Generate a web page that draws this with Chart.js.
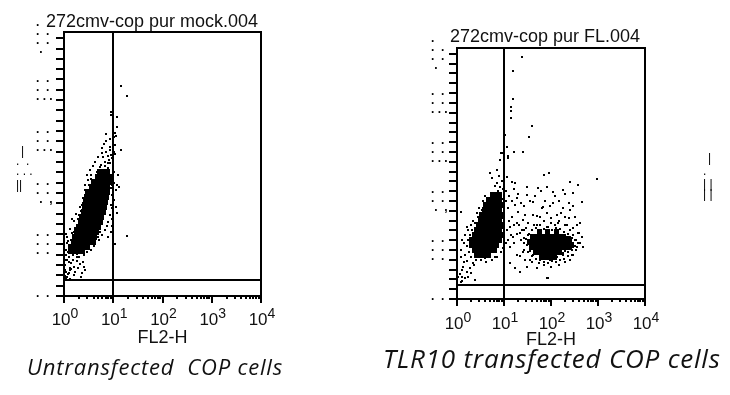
<!DOCTYPE html>
<html>
<head>
<meta charset="utf-8">
<script src="https://cdn.jsdelivr.net/npm/chart.js@4.4.1/dist/chart.umd.min.js"></script>
<style>
  html, body { margin: 0; padding: 0; background: #fff; }
  body { width: 730px; height: 395px; position: relative; overflow: hidden;
         font-family: 'Liberation Sans', Arial, sans-serif; }
  .panel { position: absolute; top: 0; height: 395px; }
  #leftBox  { left: 0;     width: 300px; }
  #rightBox { left: 390px; width: 340px; }
  .title { position: absolute; font-size: 18px; line-height: 18px; color: #111; white-space: pre; }
  .caption { position: absolute; font-family: 'Open Sans', Lato, sans-serif; font-style: italic;
             color: #111; white-space: pre; line-height: 1; }
</style>
</head>
<body>
<div class="panel" id="leftBox"><canvas id="cLeft"></canvas></div>
<div class="panel" id="rightBox"><canvas id="cRight"></canvas></div>

<div class="title" style="left:46px; top:12px;">272cmv-cop pur mock.004</div>
<div class="title" style="left:450px; top:27px;">272cmv-cop pur FL.004</div>
<div class="caption" style="left:27px; top:355px; font-size:22px; letter-spacing:0.8px;">Untransfected  COP cells</div>
<div class="caption" style="left:383px; top:345px; font-size:26px; letter-spacing:0.8px;">TLR10 transfected COP cells</div>

<script>
/* ---- axes (FL2-H log, SSC-H linear 0..1023) ---- */
const xDecades = [1, 10, 100, 1000, 10000];
const xExponents = ['0', '1', '2', '3', '4'];
const yMajorTicks = [0, 200, 400, 600, 800, 1000];
const yMinorStep = 40;
const xAxisTitle = 'FL2-H';

/* gate positions */
const leftGate = { x: 10, y: 62 };
const rightGate = { x: 10, y: 57 };

/* ---- mock (untransfected) : dense core ---- */
const mockCore = [
  [5.18,481],[6.25,481],[7.55,481],
  [4.71,462],[5.69,462],[6.87,462],[8.3,462],
  [3.9,442],[4.71,442],[5.69,442],[6.87,442],[8.3,442],
  [3.55,423],[4.29,423],[5.18,423],[6.25,423],[7.55,423],
  [2.95,404],[3.55,404],[4.29,404],[5.18,404],[6.25,404],[7.55,404],
  [2.81,384],[3.39,384],[4.09,384],[4.94,384],[5.96,384],[7.2,384],
  [2.68,365],[3.24,365],[3.9,365],[4.71,365],[5.69,365],[6.87,365],
  [2.56,345],[3.09,345],[3.72,345],[4.5,345],[5.43,345],[6.55,345],
  [2.44,326],[2.95,326],[3.55,326],[4.29,326],[5.18,326],[6.25,326],
  [2.22,307],[2.68,307],[3.24,307],[3.9,307],[4.71,307],[5.69,307],
  [2.12,287],[2.56,287],[3.09,287],[3.72,287],[4.5,287],[5.43,287],
  [1.93,268],[2.33,268],[2.81,268],[3.39,268],[4.09,268],[4.94,268],
  [1.76,248],[2.12,248],[2.56,248],[3.09,248],[3.72,248],[4.5,248],
  [1.6,229],[1.93,229],[2.33,229],[2.81,229],[3.39,229],[4.09,229],
  [1.53,210],[1.84,210],[2.22,210],[2.68,210],[3.24,210],[3.9,210],
  [1.39,190],[1.68,190],[2.02,190],[2.44,190],[2.95,190],
  [1.33,175],[1.6,175],[1.93,175],[2.33,175]
];
/* mock : single events */
const mockSparse = [
  [14.6,815],[19.3,776],[9.1,714],[9.1,702],[12.1,695],[12.1,656],[7.2,629],[11.0,632],
  [11.5,621],[8.7,609],[10.5,617],[5.96,574],[8.7,566],[14.6,566],[7.9,543],[9.5,535],
  [11.0,551],[8.7,578],[12.1,431],[13.2,423],[11.5,411],[10.5,372],[11.5,345],[12.1,322],
  [19.3,233],[1.46,299],[1.15,229],[1.27,190],[1.1,159],[1.15,140],[1.39,128],[1.6,113],
  [2.02,151],[2.56,159],[2.22,74],[1.27,89],[1.15,74],[1.46,62],[1.05,101],[1.1,93],
  [1.21,85],[1.05,78],[1.33,101],[1.1,70],[5.69,508],[6.87,520],[7.9,497],[6.25,489],
  [8.7,516],[4.94,489],[7.2,481],[8.3,528],[2.02,314],[2.33,353],[2.68,411],[3.09,450],
  [3.55,470],[1.84,275],[1.6,248],[1.39,217],[1.27,198],[1.68,178],[1.84,163],[2.95,171],
  [3.55,178],[4.09,194],[5.18,217],[5.96,237],[6.87,256],[7.9,287],[8.7,314],[9.1,353],
  [9.5,392],[9.5,431],[9.1,458],[4.29,450],[3.9,427],[5.43,466],[1.15,205],[1.33,182],
  [1.21,170],[1.46,186],[1.05,120],[1.27,150],[1.5,140],[1.8,135],[2.1,125],[2.4,130],
  [1.9,150],[1.3,110],[1.7,95],[2.6,112],[1.12,240],[1.35,260],[1.6,290],[1.75,320],
  [2.1,345],[2.4,380],[2.65,432],[3.0,470],[3.3,490],[3.8,505],[4.2,520],[5.0,540],
  [6.0,555],[7.2,560],[6.5,590],[10.3,480],[10.2,440],[12.7,470],[9.8,500],[11.0,202],
  [9.3,300],[9.6,270],[8.8,250],[8.0,230],[7.5,270],[9.4,340],[9.7,380],[9.0,420],
  [8.5,440],[10.0,470],[6.0,280],[5.5,250],[4.8,230],[4.2,210],[3.4,200],[3.0,190],
  [2.6,180],[2.2,170],[1.8,150],[1.5,160],[1.25,130],[1.4,105],[1.9,110],[2.3,90],
  [1.6,80],[1.3,65],[2.7,100],[1.05,140],[1.08,180],[1.2,215],[1.45,245],[1.7,265],
  [1.95,300],[2.2,330],[2.45,360],[2.75,395],[3.2,430],[3.6,455],[4.6,480],[5.3,500],
  [6.7,505],[7.7,515],[9.2,545],[10.5,560],[6.3,540],[7.0,600],[10.8,585]
];

/* ---- TLR10 transfected : dense cores ---- */
const tlrCore = [
  [5.56,424],[6.76,424],[8.22,424],
  [4.57,404],[5.56,404],[6.76,404],[8.22,404],
  [4.14,384],[5.04,384],[6.13,384],[7.45,384],[9.07,384],
  [3.76,363],[4.57,363],[5.56,363],[6.76,363],[8.22,363],
  [3.4,343],[4.14,343],[5.04,343],[6.13,343],[7.45,343],[9.07,343],
  [3.09,322],[3.76,322],[4.57,322],[5.56,322],[6.76,322],[8.22,322],
  [2.8,302],[3.4,302],[4.14,302],[5.04,302],[6.13,302],[7.45,302],[9.07,302],
  [2.54,282],[3.09,282],[3.76,282],[4.57,282],[5.56,282],[6.76,282],[8.22,282],
  [2.3,261],[2.8,261],[3.4,261],[4.14,261],[5.04,261],[6.13,261],[7.45,261],[9.07,261],
  [2.08,241],[2.54,241],[3.09,241],[3.76,241],[4.57,241],[5.56,241],[6.76,241],[8.22,241],
  [2.08,220],[2.54,220],[3.09,220],[3.76,220],[4.57,220],[5.56,220],[6.76,220],
  [2.3,200],[2.8,200],[3.4,200],[4.14,200],[5.04,200],[6.13,200],
  [2.54,180],[3.09,180],[3.76,180],[4.57,180],
  [58.2,273],[86.2,273],[128,273],
  [40,253],[47.9,253],[58.2,253],[70.8,253],[86.2,253],[105,253],[128,253],[155,253],[189,253],
  [35.7,233],[43.4,233],[52.8,233],[64.2,233],[78.1,233],[95,233],[116,233],[141,233],[171,233],[208,233],[253,233],
  [230,243],[279,222],
  [39.4,212],[47.9,212],[58.2,212],[70.8,212],[86.2,212],[105,212],[128,212],[155,212],[189,212],[230,212],
  [47.9,192],[58.2,192],[70.8,192],[86.2,192],[105,192],[128,192],[155,192],
  [64.2,171],[78.1,171],[95,171],[116,171]
];
const tlrSparse = [
  [24.1,987],[15.5,930],[15.5,816],[14.1,783],[14.1,767],[14.1,739],[39.4,706],[34,661],
  [10.5,669],[11.6,620],[8.6,596],[12.2,583],[16.3,600],[25.3,600],[9.52,596],[12.2,575],
  [8.22,567],[7.1,526],[5.04,514],[11.6,498],[14.8,477],[17.1,473],[30.8,457],[70.8,506],
  [90.6,514],[253,477],[375,465],[950,490],[52.8,453],[82.4,457],[110,437],[180,445],
  [293,432],[456,396],[30.8,424],[18.9,412],[23,392],[41.3,396],[67.4,375],[110,392],
  [180,371],[253,363],[323,335],[413,310],[456,253],[479,212],[357,212],[375,269],
  [1.22,355],[1.63,294],[1.28,241],[1.22,200],[1.34,131],[1.89,126],[2.19,147],[3.09,188],
  [3.94,167],[5.04,180],[7.1,171],[1.63,155],[1.48,180],[1.28,90],[1.48,86],[1.71,90],
  [2.42,78],[1.22,69],[1.3,75],[13.4,147],[17.1,126],[21.9,110],[30.8,131],[50.3,126],
  [82.4,86],[35.7,159],[18.9,180],[25.3,192],[13.4,212],[12.2,241],[15.5,253],[21.9,269],
  [13.4,294],[18.9,310],[25.3,322],[14.8,335],[19.8,355],[27.9,343],[12.2,371],[17.1,384],
  [41.3,343],[58.2,335],[82.4,351],[134,343],[198,335],[32.4,310],[50.3,302],[82.4,294],
  [141,310],[219,302],[293,290],[323,241],[279,200],[180,188],[134,171],[95,159],
  [64.2,167],[41.3,180],[35.7,212],[52.8,228],[5.56,494],[7.1,473],[8.22,457],[5.84,432],
  [4.57,412],[3.94,392],[3.4,363],[2.8,335],[2.42,310],[2.08,282],[1.89,261],[1.71,241],
  [1.89,212],[2.19,200],[86.2,86],[11.0,230],[11.6,280],[12.8,320],[14.0,260],[16.0,300],
  [16.5,230],[19.0,265],[20.5,300],[22.5,240],[24.5,280],[27.0,250],[29.0,290],[31.0,220],
  [33.5,265],[37.0,235],[40.0,280],[44.0,300],[45.0,250],[10.8,400],[11.3,440],[12.5,420],
  [15.0,400],[16.5,450],[20.0,430],[27.0,380],[35.0,400],[45.0,420],[60.0,440],[75.0,400],
  [95.0,380],[120,420],[150,400],[200,430],[240,390],[300,380],[160,350],[240,330],
  [65.0,370],[100,330],[120,300],[350,300],[400,270],[380,230],[300,180],[250,160],
  [200,150],[150,140],[100,130],[70.0,150],[55.0,145],[40.0,150],[28.0,160],[22.0,175],
  [26.6,282],[32.4,261],[39.4,282],[47.9,290],[58.2,300],[70.8,285],[86.2,292],[105,280],
  [128,290],[155,285],[189,275],[230,265],[279,250],[340,240],[413,230],[340,200],
  [279,180],[230,175],[189,165],[155,160],[128,150],[105,155],[86.2,145],[70.8,140],
  [58.2,160],[47.9,165],[39.4,175],[32.4,190],[26.6,200],[26.6,230],[30,245],[250,215],
  [300,225],[270,205],[200,195],[230,190],[180,180],[110,175],[60,185],[45,200],
  [35,195],[300,260],[250,280],[200,300],[150,320],[100,310],[70,320],[50,340],
  [260,243],[320,215],[9.5,450],[9.0,480],[8.0,500],[9.8,520],[6.5,460],[7.5,440],
  [9.5,410],[4.0,420],[3.6,400],[3.0,370],[2.6,350],[2.2,320],[2.0,300],[1.7,280],
  [1.5,260],[1.4,230],[1.6,215],[1.8,190],[2.0,170],[2.5,160],[3.3,160],[4.2,150],
  [5.5,160],[6.5,170],[8.5,190],[9.5,210],[9.8,250],[9.6,290],[9.7,330],[9.9,360],
  [1.2,170],[1.4,150],[1.3,120],[1.6,110],[2.0,105],[2.3,140],[1.15,100],[1.05,90]
];

/* garbled y tick labels in the source image: rows of dots per major tick */
const yTickGlyphs = {
  0:    [['.  .', -1]],
  200:  [['.  .', -10], ['.  .', -1], ['.  .', 8]],
  400:  [['.  .', -10], ['.  .', -1], [' .  ,', 8]],
  600:  [['.  .', -10], ['.  .', -1], ['. . .', 8]],
  800:  [['.  .', -10], ['.  .', -1], ['. . .', 8]],
  1000: [['.', -14], ['.  .', -5], ['.  .', 4], [' .', 13]]
};

function dotImage(w, h) {
  const c = document.createElement('canvas');
  c.width = w; c.height = h;
  const g = c.getContext('2d');
  g.fillStyle = '#000';
  g.fillRect(0, 0, w, h);
  return c;
}
const dotBig = dotImage(5, 6), dotSmall = dotImage(2, 2);

const toXY = arr => arr.map(p => ({ x: p[0], y: p[1] }));

function line(ctx, x1, y1, x2, y2) {
  ctx.beginPath(); ctx.moveTo(x1, y1); ctx.lineTo(x2, y2); ctx.stroke();
}

const flowFrame = {
  id: 'flowFrame',
  beforeDatasetsDraw(chart) { chart.ctx.imageSmoothingEnabled = false; },
  afterDatasetsDraw(chart, args, o) {
    const { ctx, chartArea: a } = chart;
    const x = chart.scales.x, y = chart.scales.y;
    ctx.save();
    ctx.strokeStyle = '#000';
    ctx.fillStyle = '#111';
    ctx.lineWidth = 2;

    // gates
    const gx = Math.round(x.getPixelForValue(o.gate.x));
    const gy = Math.round(y.getPixelForValue(o.gate.y));
    line(ctx, gx, a.top, gx, a.bottom);
    line(ctx, a.left, gy, a.right, gy);

    // frame
    ctx.strokeRect(a.left, a.top, a.right - a.left, a.bottom - a.top);

    // y ticks (outside, left)
    for (let v = 0; v <= 1000; v += yMinorStep) {
      const py = Math.round(y.getPixelForValue(v));
      line(ctx, a.left - 8, py, a.left, py);
    }
    // x ticks (log)
    xDecades.forEach((d, i) => {
      const px = Math.round(x.getPixelForValue(d));
      line(ctx, px, a.bottom, px, a.bottom + 7);
      if (i < xDecades.length - 1) {
        for (let m = 2; m <= 9; m++) {
          const mx = Math.round(x.getPixelForValue(m * d));
          line(ctx, mx, a.bottom, mx, a.bottom + 3);
        }
      }
    });

    // x tick labels 10^n
    const fBase = '17px "Liberation Sans", Arial, sans-serif';
    const fExp = '14px "Liberation Sans", Arial, sans-serif';
    xDecades.forEach((d, i) => {
      const px = x.getPixelForValue(d);
      ctx.font = fBase;
      const w1 = ctx.measureText('10').width;
      ctx.font = fExp;
      const w2 = ctx.measureText(xExponents[i]).width;
      const sx = px - (w1 + w2) / 2 + 1;
      ctx.textAlign = 'left';
      ctx.textBaseline = 'alphabetic';
      ctx.font = fBase;
      ctx.fillText('10', sx, o.labelBase);
      ctx.font = fExp;
      ctx.fillText(xExponents[i], sx + w1, o.labelBase - 7);
    });

    // axis title
    ctx.font = '18px "Liberation Sans", Arial, sans-serif';
    ctx.textAlign = 'center';
    ctx.fillText(xAxisTitle, (a.left + a.right) / 2, o.titleBase);

    // garbled y labels
    ctx.font = 'bold 12px "Liberation Sans", Arial, sans-serif';
    ctx.textAlign = 'left';
    ctx.fillStyle = '#000';
    yMajorTicks.forEach(v => {
      const py = y.getPixelForValue(v);
      (yTickGlyphs[v] || []).forEach(r => ctx.fillText(r[0], a.left + o.glyphDx, py + r[1] + 2));
    });
    // garbled axis label fragments
    ctx.font = '12px "Liberation Sans", Arial, sans-serif';
    (o.side || []).forEach(s => ctx.fillText(s[0], s[1], s[2]));
    ctx.restore();
  }
};

function makeChart(id, core, sparse, opt) {
  return new Chart(document.getElementById(id), {
    type: 'scatter',
    data: {
      datasets: [
        { data: toXY(core), pointStyle: dotBig, pointRadius: 2, backgroundColor: '#000' },
        { data: toXY(sparse), pointStyle: dotSmall, pointRadius: 2, backgroundColor: '#000' }
      ]
    },
    options: {
      responsive: true, maintainAspectRatio: false, animation: false, events: [],
      layout: { padding: { left: 0, right: opt.padRight, top: opt.padTop, bottom: 0 } },
      plugins: {
        legend: { display: false }, tooltip: { enabled: false },
        flowFrame: opt.frame
      },
      scales: {
        x: { type: 'logarithmic', min: 1, max: 10000,
             grid: { display: false }, border: { display: false }, ticks: { display: false },
             afterFit: s => { s.height = opt.xH; } },
        y: { type: 'linear', min: 0, max: 1024,
             grid: { display: false }, border: { display: false }, ticks: { display: false },
             afterFit: s => { s.width = opt.yW; } }
      }
    },
    plugins: [flowFrame]
  });
}

makeChart('cLeft', mockCore, mockSparse, {
  padRight: 39, padTop: 32, xH: 99, yW: 64,
  frame: { gate: leftGate, labelBase: 325, titleBase: 343, glyphDx: -28,
           side: [['|', 21, 155], ['.  .', 16, 165], ['. . .', 16, 175], ['||', 16, 189]] }
});
makeChart('cRight', tlrCore, tlrSparse, {
  padRight: 85, padTop: 48, xH: 96, yW: 67,
  frame: { gate: rightGate, labelBase: 329, titleBase: 345, glyphDx: -26,
           side: [['|', 318, 162], ['.', 313, 175], ['| |', 313, 188], ['| |', 313, 198]] }
});
</script>
</body>
</html>
